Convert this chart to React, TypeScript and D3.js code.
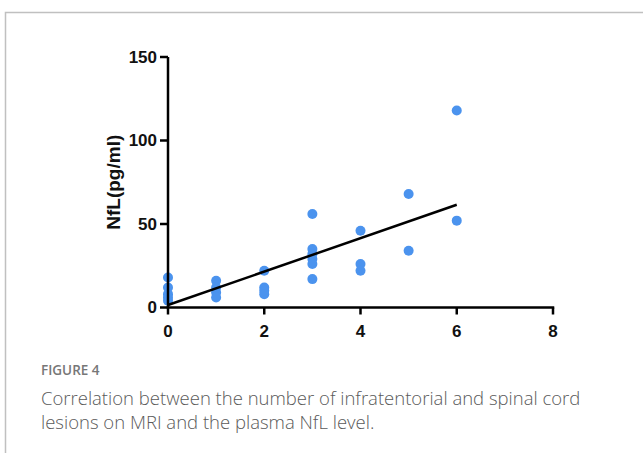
import React from 'react';
import * as d3 from 'd3';

const lesions = [0, 0, 0, 0, 0, 1, 1, 1, 1, 2, 2, 2, 2, 3, 3, 3, 3, 3, 3, 4, 4, 4, 5, 5, 6, 6];
const nfl = [18, 12, 8, 6, 4, 16, 12, 9, 6, 22, 12, 10, 8, 56, 35, 32, 29, 26, 17, 46, 26, 22, 68, 34, 118, 52];

// fitted line
const fitX = [0, 6];
const fitY = [1.5, 61.5];

const xTicks = [0, 2, 4, 6, 8];
const yTicks = [0, 50, 100, 150];

const W = 643;
const H = 453;

const App = () => {
  const x = d3.scaleLinear().domain([0, 8]).range([168, 553]);
  const y = d3.scaleLinear().domain([0, 150]).range([307.5, 57]);

  const line = d3
    .line<number>()
    .x(d => x(d))
    .y((d, i) => y(fitY[i]));

  const axisFont = 'Arial, "Liberation Sans", sans-serif';
  const capFont = '"Open Sans", sans-serif';

  return (
    <svg width={W} height={H} style={{ position: 'absolute', left: 0, top: 0 }}>
      <rect width={W} height={H} fill="white" />
      {/* frame */}
      <path d={`M5.5,${H} V12.5 H${W}`} fill="none" stroke="#c0c0c0" strokeWidth={1.5} />

      {/* points */}
      {lesions.map((d, i) => (
        <circle key={i} cx={x(d)} cy={y(nfl[i])} r={5} fill="#4b93ee" />
      ))}

      {/* fit line */}
      <path d={line(fitX) || ''} fill="none" stroke="black" strokeWidth={2.5} />

      {/* y axis */}
      <g>
        <line x1={x(0)} x2={x(0)} y1={y(150)} y2={y(0)} stroke="black" strokeWidth={2.5} />
        {yTicks.map(t => (
          <g key={t}>
            <line x1={x(0) - 8} x2={x(0)} y1={y(t)} y2={y(t)} stroke="black" strokeWidth={2.5} />
            <text
              x={x(0) - 11}
              y={y(t)}
              textAnchor="end"
              dominantBaseline="central"
              fontFamily={axisFont}
              fontWeight="bold"
              fontSize={17}
              fill="#111"
            >
              {t}
            </text>
          </g>
        ))}
        <text
          transform={`translate(113, ${(y(0) + y(150)) / 2}) rotate(-90)`}
          textAnchor="middle"
          dominantBaseline="central"
          fontFamily={axisFont}
          fontWeight="bold"
          fontSize={19}
          fill="#111"
        >
          NfL(pg/ml)
        </text>
      </g>

      {/* x axis */}
      <g>
        <line x1={x(0) - 1.25} x2={x(8) + 1.25} y1={y(0)} y2={y(0)} stroke="black" strokeWidth={2.5} />
        {xTicks.map(t => (
          <g key={t}>
            <line x1={x(t)} x2={x(t)} y1={y(0)} y2={y(0) + 7} stroke="black" strokeWidth={2.5} />
            <text
              x={x(t)}
              y={y(0) + 24}
              textAnchor="middle"
              dominantBaseline="central"
              fontFamily={axisFont}
              fontWeight="bold"
              fontSize={17}
              fill="#111"
            >
              {t}
            </text>
          </g>
        ))}
      </g>

      {/* caption */}
      <text x={41} y={375} fontFamily={capFont} fontWeight={600} fontSize={13.5} fill="#777">
        FIGURE 4
      </text>
      <text x={41} y={405} fontFamily={capFont} fontWeight={300} fontSize={18.5} fill="#5a5a5a">
        Correlation between the number of infratentorial and spinal cord
      </text>
      <text x={41} y={429} fontFamily={capFont} fontWeight={300} fontSize={18.5} fill="#5a5a5a">
        lesions on MRI and the plasma NfL level.
      </text>
    </svg>
  );
};

export default App;
